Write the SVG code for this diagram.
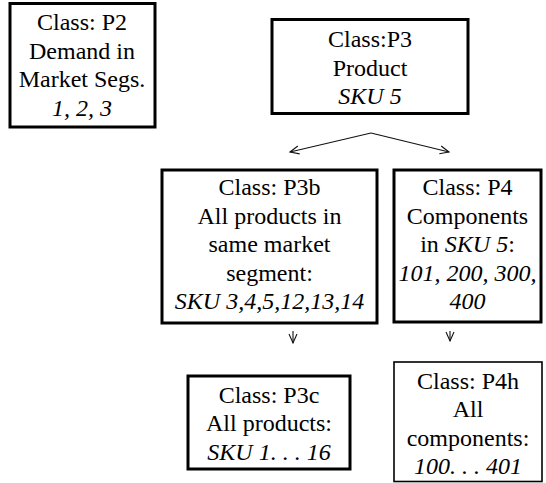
<svg xmlns="http://www.w3.org/2000/svg" width="546" height="483" viewBox="0 0 546 483">
  <defs>
    <marker id="head" markerUnits="userSpaceOnUse" markerWidth="14" markerHeight="14" refX="10" refY="5" orient="auto">
      <path d="M1,1 L10,5 L1,9" fill="none" stroke="#111" stroke-width="1.1"/>
    </marker>
  </defs>

  <rect width="546" height="483" fill="#fff"/>

  <!-- boxes: 3px black frame, white fill; text in Times-style serif, centred -->
  <g id="p2">
    <rect x="10" y="3.5" width="145" height="123.5" fill="#fff" stroke="#000" stroke-width="3"/>
    <text x="82" y="30" font-family="Liberation Serif" font-size="24" text-anchor="middle">Class: P2</text>
    <text x="82" y="58.5" font-family="Liberation Serif" font-size="24" text-anchor="middle">Demand in</text>
    <text x="82" y="87" font-family="Liberation Serif" font-size="24" text-anchor="middle">Market Segs.</text>
    <text x="82" y="115.5" font-family="Liberation Serif" font-size="24" font-style="italic" text-anchor="middle">1, 2, 3</text>
  </g>

  <g id="p3">
    <rect x="272" y="19.5" width="196" height="94" fill="#fff" stroke="#000" stroke-width="3"/>
    <text x="370" y="47" font-family="Liberation Serif" font-size="24" text-anchor="middle">Class:P3</text>
    <text x="370" y="75.5" font-family="Liberation Serif" font-size="24" text-anchor="middle">Product</text>
    <text x="370" y="104" font-family="Liberation Serif" font-size="24" font-style="italic" text-anchor="middle">SKU 5</text>
  </g>

  <g id="p3b">
    <rect x="162" y="170" width="215" height="153" fill="#fff" stroke="#000" stroke-width="3"/>
    <text x="269.5" y="195" font-family="Liberation Serif" font-size="24" text-anchor="middle">Class: P3b</text>
    <text x="269.5" y="223.5" font-family="Liberation Serif" font-size="24" text-anchor="middle">All products in</text>
    <text x="269.5" y="252" font-family="Liberation Serif" font-size="24" text-anchor="middle">same market</text>
    <text x="269.5" y="280.5" font-family="Liberation Serif" font-size="24" text-anchor="middle">segment:</text>
    <text x="269.5" y="309" font-family="Liberation Serif" font-size="24" font-style="italic" text-anchor="middle">SKU 3,4,5,12,13,14</text>
  </g>

  <g id="p4">
    <rect x="394" y="170" width="147" height="152" fill="#fff" stroke="#000" stroke-width="3"/>
    <text x="467.5" y="195" font-family="Liberation Serif" font-size="24" text-anchor="middle">Class: P4</text>
    <text x="467.5" y="223.5" font-family="Liberation Serif" font-size="24" text-anchor="middle">Components</text>
    <text x="467.5" y="252" font-family="Liberation Serif" font-size="24" text-anchor="middle">in <tspan font-style="italic">SKU 5</tspan>:</text>
    <text x="467.5" y="280.5" font-family="Liberation Serif" font-size="24" font-style="italic" text-anchor="middle">101, 200, 300,</text>
    <text x="467.5" y="309" font-family="Liberation Serif" font-size="24" font-style="italic" text-anchor="middle">400</text>
  </g>

  <g id="p3c">
    <rect x="188" y="376" width="162" height="93" fill="#fff" stroke="#000" stroke-width="3"/>
    <text x="269" y="402.5" font-family="Liberation Serif" font-size="24" text-anchor="middle">Class: P3c</text>
    <text x="269" y="431" font-family="Liberation Serif" font-size="24" text-anchor="middle">All products:</text>
    <text x="269" y="459.5" font-family="Liberation Serif" font-size="24" font-style="italic" text-anchor="middle">SKU 1. . . 16</text>
  </g>

  <g id="p4h">
    <rect x="394" y="362" width="148" height="119.5" fill="#fff" stroke="#000" stroke-width="1.6"/>
    <text x="468" y="388.5" font-family="Liberation Serif" font-size="24" text-anchor="middle">Class: P4h</text>
    <text x="468" y="417" font-family="Liberation Serif" font-size="24" text-anchor="middle">All</text>
    <text x="468" y="445.5" font-family="Liberation Serif" font-size="24" text-anchor="middle">components:</text>
    <text x="468" y="474" font-family="Liberation Serif" font-size="24" font-style="italic" text-anchor="middle">100. . . 401</text>
  </g>

  <g id="connectors" fill="none" stroke="#111" stroke-width="1.1">
    <path d="M371,133 L290,152" marker-end="url(#head)"/>
    <path d="M371,133 L449,152" marker-end="url(#head)"/>
    <path d="M293,331 L293,343" marker-end="url(#head)"/>
    <path d="M450,331 L450,341" marker-end="url(#head)"/>
  </g>
</svg>
